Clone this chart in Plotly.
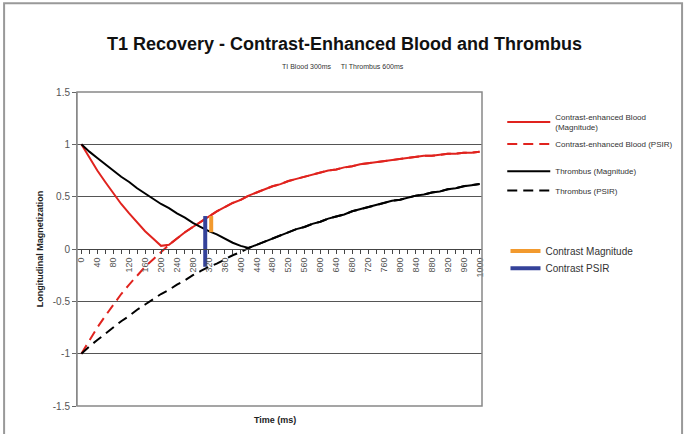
import plotly.graph_objects as go

# valores (a cada 20 ms)
time_ms = [0, 20, 40, 60, 80, 100, 120, 140, 160, 180, 200, 220, 240, 260, 280, 300,
           320, 340, 360, 380, 400, 420, 440, 460, 480, 500, 520, 540, 560, 580, 600,
           620, 640, 660, 680, 700, 720, 740, 760, 780, 800, 820, 840, 860, 880, 900,
           920, 940, 960, 980, 1000]

blood_mag = [1.00, 0.87, 0.75, 0.64, 0.53, 0.43, 0.34, 0.25, 0.17, 0.10, 0.03, 0.04, 0.10,
             0.16, 0.21, 0.26, 0.31, 0.36, 0.40, 0.44, 0.47, 0.51, 0.54, 0.57, 0.60, 0.62,
             0.65, 0.67, 0.69, 0.71, 0.73, 0.75, 0.76, 0.78, 0.79, 0.81, 0.82, 0.83, 0.84,
             0.85, 0.86, 0.87, 0.88, 0.89, 0.89, 0.90, 0.91, 0.91, 0.92, 0.92, 0.93]
blood_psir = [-1.00, -0.87, -0.75, -0.64, -0.53, -0.43, -0.34, -0.25, -0.17, -0.10, -0.03, 0.04, 0.10,
              0.16, 0.21, 0.26, 0.31, 0.36, 0.40, 0.44, 0.47, 0.51, 0.54, 0.57, 0.60, 0.62,
              0.65, 0.67, 0.69, 0.71, 0.73, 0.75, 0.76, 0.78, 0.79, 0.81, 0.82, 0.83, 0.84,
              0.85, 0.86, 0.87, 0.88, 0.89, 0.89, 0.90, 0.91, 0.91, 0.92, 0.92, 0.93]
thrombus_mag = [1.00, 0.93, 0.87, 0.81, 0.75, 0.69, 0.64, 0.58, 0.53, 0.48, 0.43, 0.39, 0.34,
                0.30, 0.25, 0.21, 0.17, 0.14, 0.10, 0.06, 0.03, 0.01, 0.04, 0.07, 0.10, 0.13,
                0.16, 0.19, 0.21, 0.24, 0.26, 0.29, 0.31, 0.33, 0.36, 0.38, 0.40, 0.42, 0.44,
                0.46, 0.47, 0.49, 0.51, 0.52, 0.54, 0.55, 0.57, 0.58, 0.60, 0.61, 0.62]
thrombus_psir = [-1.00, -0.93, -0.87, -0.81, -0.75, -0.69, -0.64, -0.58, -0.53, -0.48, -0.43, -0.39, -0.34,
                 -0.30, -0.25, -0.21, -0.17, -0.14, -0.10, -0.06, -0.03, 0.01, 0.04, 0.07, 0.10, 0.13,
                 0.16, 0.19, 0.21, 0.24, 0.26, 0.29, 0.31, 0.33, 0.36, 0.38, 0.40, 0.42, 0.44,
                 0.46, 0.47, 0.49, 0.51, 0.52, 0.54, 0.55, 0.57, 0.58, 0.60, 0.61, 0.62]

# barras de contraste
contrast_mag_t = [326, 326]
contrast_mag_y = [0.16, 0.315]
contrast_psir_t = [311, 311]
contrast_psir_y = [-0.17, 0.315]

x_tickvals = [0, 40, 80, 120, 160, 200, 240, 280, 320, 360, 400, 440, 480, 520, 560, 600,
              640, 680, 720, 760, 800, 840, 880, 920, 960, 1000]
x_ticktext = ['0', '40', '80', '120', '160', '200', '240', '280', '320', '360', '400', '440',
              '480', '520', '560', '600', '640', '680', '720', '760', '800', '840', '880',
              '920', '960', '1000']
y_tickvals = [-1.5, -1, -0.5, 0, 0.5, 1, 1.5]
y_ticktext = ['-1.5', '-1', '-0.5', '0', '0.5', '1', '1.5']

FONT = 'Liberation Sans, Arial, sans-serif'
RED = '#e0231e'
ORANGE = '#f29a2e'
BLUE = '#34429a'
DASH = '10px,6px'

fig = go.Figure()

# PSIR primeiro (fica por baixo)
fig.add_trace(go.Scatter(x=time_ms, y=blood_psir, mode='lines', name='Contrast-enhanced Blood (PSIR)',
                         line=dict(color=RED, width=2, dash=DASH), legend='legend2'))
fig.add_trace(go.Scatter(x=time_ms, y=thrombus_psir, mode='lines', name='Thrombus (PSIR)',
                         line=dict(color='black', width=2, dash=DASH), legend='legend4'))
fig.add_trace(go.Scatter(x=time_ms, y=blood_mag, mode='lines', name='Contrast-enhanced Blood<br>(Magnitude)',
                         line=dict(color=RED, width=2), legend='legend'))
fig.add_trace(go.Scatter(x=time_ms, y=thrombus_mag, mode='lines', name='Thrombus (Magnitude)',
                         line=dict(color='black', width=2), legend='legend3'))
fig.add_trace(go.Scatter(x=contrast_psir_t, y=contrast_psir_y, mode='lines', name='Contrast PSIR',
                         line=dict(color=BLUE, width=4), legend='legend6'))
fig.add_trace(go.Scatter(x=contrast_mag_t, y=contrast_mag_y, mode='lines', name='Contrast Magnitude',
                         line=dict(color=ORANGE, width=4), legend='legend5'))

# posicao de cada legenda (uma por item)
def leg(y, size, x=1.05, iw=43):
    return dict(x=x, y=y, xanchor='left', yanchor='middle', bgcolor='rgba(0,0,0,0)',
                font=dict(family=FONT, size=size, color='#333'), itemwidth=iw,
                tracegroupgap=0)

small = 8
fig.update_layout(
    legend=leg(0.904, small),
    legend2=leg(0.834, small),
    legend3=leg(0.748, small),
    legend4=leg(0.686, small),
    legend5=leg(0.494, 10, x=1.058, iw=30),
    legend6=leg(0.439, 10, x=1.058, iw=30),
)

fig.update_layout(
    width=685, height=434,
    margin=dict(l=77, r=203, t=92, b=28, autoexpand=False),
    paper_bgcolor='white', plot_bgcolor='white',
    font=dict(family=FONT, color='#333'),
    showlegend=True,
    xaxis=dict(range=[-11, 1006], anchor='free', position=0.5,
               tickvals=x_tickvals, ticktext=x_ticktext, tickangle=-90,
               tickfont=dict(size=9, color='#555'),
               ticks='outside', ticklen=4, tickcolor='#444',
               minor=dict(dtick=20, tick0=0, ticks='outside', ticklen=4, tickcolor='#444', showgrid=False),
               showline=True, linecolor='#444', linewidth=1, showgrid=False, zeroline=False),
    yaxis=dict(range=[-1.5, 1.5], tickvals=y_tickvals, ticktext=y_ticktext,
               tickfont=dict(size=10, color='#555'),
               ticks='outside', ticklen=4, tickcolor='#666',
               showline=True, linecolor='#888', linewidth=1,
               showgrid=True, gridcolor='#555', gridwidth=1, zeroline=False,
               title=dict(text='<b>Longitudinal Magnetization</b>', font=dict(size=9, color='#222'), standoff=7)),
    shapes=[
        dict(type='rect', xref='paper', yref='paper', x0=0, x1=1, y0=0, y1=1,
             line=dict(color='#888', width=1.5)),
        dict(type='rect', xref='paper', yref='paper', x0=-0.180, x1=1.494, y0=-0.12, y1=1.283,
             line=dict(color='#999', width=2)),
    ],
    annotations=[
        dict(text='<b>T1 Recovery - Contrast-Enhanced Blood and Thrombus</b>', xref='paper', yref='paper',
             x=0.661, y=1.152, xanchor='center', yanchor='middle', showarrow=False,
             font=dict(family=FONT, size=18, color='#111')),
        dict(text='TI Blood 300ms&nbsp;&nbsp;&nbsp;&nbsp;&nbsp;TI Thrombus 600ms', xref='paper', yref='paper',
             x=0.657, y=1.080, xanchor='center', yanchor='middle', showarrow=False,
             font=dict(family=FONT, size=7, color='#333')),
        dict(text='<b>Time (ms)</b>', xref='paper', yref='paper',
             x=0.49, y=-0.045, xanchor='center', yanchor='middle', showarrow=False,
             font=dict(family=FONT, size=9, color='#222')),
    ],
)

# tira a margem padrao do body para a figura ocupar a janela toda
fig.write_html("out.html", config={'displayModeBar': False},
               post_script="document.body.style.margin='0px';")
